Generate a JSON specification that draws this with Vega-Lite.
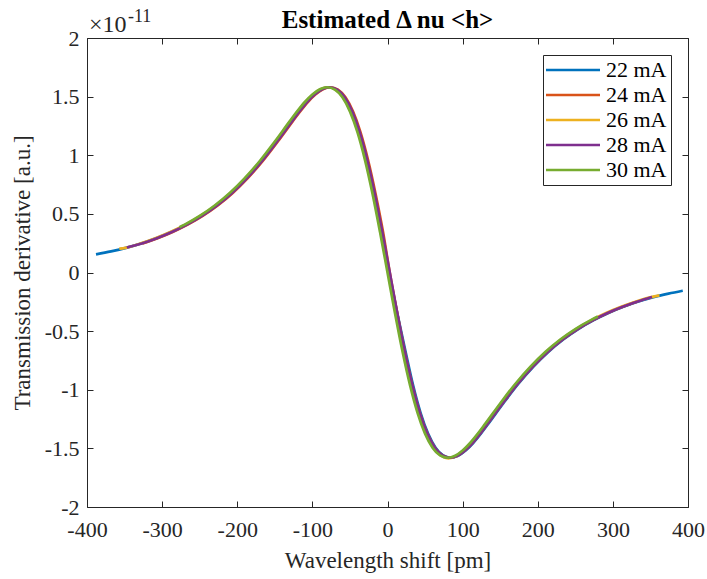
{
"$schema": "https://vega.github.io/schema/vega-lite/v6.json",
"width": 601, "height": 469,
"autosize": {"type": "none"},
"padding": {"left": 87, "top": 38, "right": 19, "bottom": 72},
"background": "white",
"title": {"text": "Estimated Δ nu <h>", "font": "Liberation Serif", "fontSize": 25, "fontWeight": "bold", "color": "black", "anchor": "middle", "frame": "group", "offset": -45, "baseline": "alphabetic"},
"config": {
  "view": {"stroke": "#262626", "strokeWidth": 1},
  "axis": {"grid": false, "domain": false, "labelFont": "Liberation Serif", "titleFont": "Liberation Serif", "labelFontSize": 22, "titleFontSize": 23, "labelColor": "#262626", "titleColor": "#262626", "titleFontWeight": "normal", "tickColor": "#262626", "tickWidth": 1, "labelFlush": false, "labelOverlap": false}
},
"datasets": {
  "curves": [
    {"s":"22 mA","x":-388,"y":0.155},{"s":"22 mA","x":-368,"y":0.180},{"s":"22 mA","x":-348,"y":0.210},{"s":"22 mA","x":-328,"y":0.247},{"s":"22 mA","x":-308,"y":0.292},{"s":"22 mA","x":-288,"y":0.345},{"s":"22 mA","x":-268,"y":0.408},{"s":"22 mA","x":-248,"y":0.482},{"s":"22 mA","x":-228,"y":0.571},{"s":"22 mA","x":-208,"y":0.678},{"s":"22 mA","x":-188,"y":0.805},{"s":"22 mA","x":-168,"y":0.951},{"s":"22 mA","x":-148,"y":1.117},{"s":"22 mA","x":-128,"y":1.291},{"s":"22 mA","x":-118,"y":1.376},{"s":"22 mA","x":-108,"y":1.454},{"s":"22 mA","x":-98,"y":1.518},{"s":"22 mA","x":-88,"y":1.563},{"s":"22 mA","x":-78,"y":1.580},{"s":"22 mA","x":-68,"y":1.560},{"s":"22 mA","x":-58,"y":1.494},{"s":"22 mA","x":-48,"y":1.374},{"s":"22 mA","x":-38,"y":1.197},{"s":"22 mA","x":-28,"y":0.961},{"s":"22 mA","x":-18,"y":0.674},{"s":"22 mA","x":-8,"y":0.347},{"s":"22 mA","x":2,"y":0},{"s":"22 mA","x":13,"y":-0.347},{"s":"22 mA","x":24,"y":-0.674},{"s":"22 mA","x":34,"y":-0.961},{"s":"22 mA","x":44,"y":-1.197},{"s":"22 mA","x":54,"y":-1.374},{"s":"22 mA","x":64,"y":-1.494},{"s":"22 mA","x":74,"y":-1.560},{"s":"22 mA","x":84,"y":-1.580},{"s":"22 mA","x":94,"y":-1.563},{"s":"22 mA","x":104,"y":-1.518},{"s":"22 mA","x":114,"y":-1.454},{"s":"22 mA","x":124,"y":-1.376},{"s":"22 mA","x":134,"y":-1.291},{"s":"22 mA","x":154,"y":-1.117},{"s":"22 mA","x":174,"y":-0.951},{"s":"22 mA","x":194,"y":-0.805},{"s":"22 mA","x":214,"y":-0.678},{"s":"22 mA","x":234,"y":-0.571},{"s":"22 mA","x":254,"y":-0.482},{"s":"22 mA","x":274,"y":-0.408},{"s":"22 mA","x":294,"y":-0.345},{"s":"22 mA","x":314,"y":-0.292},{"s":"22 mA","x":334,"y":-0.247},{"s":"22 mA","x":354,"y":-0.210},{"s":"22 mA","x":374,"y":-0.180},{"s":"22 mA","x":393,"y":-0.155},
    {"s":"24 mA","x":-326,"y":0.247},{"s":"24 mA","x":-306,"y":0.292},{"s":"24 mA","x":-286,"y":0.345},{"s":"24 mA","x":-266,"y":0.408},{"s":"24 mA","x":-246,"y":0.482},{"s":"24 mA","x":-226,"y":0.571},{"s":"24 mA","x":-206,"y":0.678},{"s":"24 mA","x":-186,"y":0.805},{"s":"24 mA","x":-166,"y":0.951},{"s":"24 mA","x":-146,"y":1.117},{"s":"24 mA","x":-126,"y":1.291},{"s":"24 mA","x":-116,"y":1.376},{"s":"24 mA","x":-106,"y":1.454},{"s":"24 mA","x":-96,"y":1.518},{"s":"24 mA","x":-86,"y":1.563},{"s":"24 mA","x":-76,"y":1.580},{"s":"24 mA","x":-66,"y":1.560},{"s":"24 mA","x":-56,"y":1.494},{"s":"24 mA","x":-46,"y":1.374},{"s":"24 mA","x":-36,"y":1.197},{"s":"24 mA","x":-26,"y":0.961},{"s":"24 mA","x":-16,"y":0.674},{"s":"24 mA","x":-6,"y":0.347},{"s":"24 mA","x":3,"y":0},{"s":"24 mA","x":13,"y":-0.347},{"s":"24 mA","x":23,"y":-0.674},{"s":"24 mA","x":33,"y":-0.961},{"s":"24 mA","x":43,"y":-1.197},{"s":"24 mA","x":53,"y":-1.374},{"s":"24 mA","x":63,"y":-1.494},{"s":"24 mA","x":73,"y":-1.560},{"s":"24 mA","x":83,"y":-1.580},{"s":"24 mA","x":93,"y":-1.563},{"s":"24 mA","x":103,"y":-1.518},{"s":"24 mA","x":113,"y":-1.454},{"s":"24 mA","x":123,"y":-1.376},{"s":"24 mA","x":133,"y":-1.291},{"s":"24 mA","x":153,"y":-1.117},{"s":"24 mA","x":173,"y":-0.951},{"s":"24 mA","x":193,"y":-0.805},{"s":"24 mA","x":213,"y":-0.678},{"s":"24 mA","x":233,"y":-0.571},{"s":"24 mA","x":253,"y":-0.482},{"s":"24 mA","x":273,"y":-0.408},{"s":"24 mA","x":293,"y":-0.345},{"s":"24 mA","x":313,"y":-0.292},{"s":"24 mA","x":333,"y":-0.247},
    {"s":"26 mA","x":-357,"y":0.203},{"s":"26 mA","x":-349,"y":0.210},{"s":"26 mA","x":-329,"y":0.247},{"s":"26 mA","x":-309,"y":0.292},{"s":"26 mA","x":-289,"y":0.345},{"s":"26 mA","x":-269,"y":0.408},{"s":"26 mA","x":-249,"y":0.482},{"s":"26 mA","x":-229,"y":0.571},{"s":"26 mA","x":-209,"y":0.678},{"s":"26 mA","x":-189,"y":0.805},{"s":"26 mA","x":-169,"y":0.951},{"s":"26 mA","x":-149,"y":1.117},{"s":"26 mA","x":-129,"y":1.291},{"s":"26 mA","x":-119,"y":1.376},{"s":"26 mA","x":-109,"y":1.454},{"s":"26 mA","x":-99,"y":1.518},{"s":"26 mA","x":-89,"y":1.563},{"s":"26 mA","x":-79,"y":1.580},{"s":"26 mA","x":-69,"y":1.560},{"s":"26 mA","x":-59,"y":1.494},{"s":"26 mA","x":-49,"y":1.374},{"s":"26 mA","x":-39,"y":1.197},{"s":"26 mA","x":-29,"y":0.961},{"s":"26 mA","x":-19,"y":0.674},{"s":"26 mA","x":-9,"y":0.347},{"s":"26 mA","x":1,"y":0},{"s":"26 mA","x":11,"y":-0.347},{"s":"26 mA","x":21,"y":-0.674},{"s":"26 mA","x":31,"y":-0.961},{"s":"26 mA","x":41,"y":-1.197},{"s":"26 mA","x":51,"y":-1.374},{"s":"26 mA","x":61,"y":-1.494},{"s":"26 mA","x":71,"y":-1.560},{"s":"26 mA","x":81,"y":-1.585},{"s":"26 mA","x":91,"y":-1.568},{"s":"26 mA","x":101,"y":-1.518},{"s":"26 mA","x":111,"y":-1.454},{"s":"26 mA","x":121,"y":-1.376},{"s":"26 mA","x":131,"y":-1.291},{"s":"26 mA","x":151,"y":-1.117},{"s":"26 mA","x":171,"y":-0.951},{"s":"26 mA","x":191,"y":-0.805},{"s":"26 mA","x":211,"y":-0.678},{"s":"26 mA","x":231,"y":-0.571},{"s":"26 mA","x":251,"y":-0.482},{"s":"26 mA","x":271,"y":-0.408},{"s":"26 mA","x":291,"y":-0.345},{"s":"26 mA","x":311,"y":-0.292},{"s":"26 mA","x":331,"y":-0.247},{"s":"26 mA","x":351,"y":-0.210},{"s":"26 mA","x":362,"y":-0.195},
    {"s":"28 mA","x":-347,"y":0.213},{"s":"28 mA","x":-327,"y":0.247},{"s":"28 mA","x":-307,"y":0.292},{"s":"28 mA","x":-287,"y":0.345},{"s":"28 mA","x":-267,"y":0.408},{"s":"28 mA","x":-247,"y":0.482},{"s":"28 mA","x":-227,"y":0.571},{"s":"28 mA","x":-207,"y":0.678},{"s":"28 mA","x":-187,"y":0.805},{"s":"28 mA","x":-167,"y":0.951},{"s":"28 mA","x":-147,"y":1.117},{"s":"28 mA","x":-127,"y":1.291},{"s":"28 mA","x":-117,"y":1.376},{"s":"28 mA","x":-107,"y":1.454},{"s":"28 mA","x":-97,"y":1.518},{"s":"28 mA","x":-87,"y":1.563},{"s":"28 mA","x":-77,"y":1.580},{"s":"28 mA","x":-67,"y":1.560},{"s":"28 mA","x":-57,"y":1.494},{"s":"28 mA","x":-47,"y":1.374},{"s":"28 mA","x":-37,"y":1.197},{"s":"28 mA","x":-27,"y":0.961},{"s":"28 mA","x":-17,"y":0.674},{"s":"28 mA","x":-7,"y":0.347},{"s":"28 mA","x":3,"y":0},{"s":"28 mA","x":13,"y":-0.347},{"s":"28 mA","x":23,"y":-0.674},{"s":"28 mA","x":33,"y":-0.961},{"s":"28 mA","x":43,"y":-1.197},{"s":"28 mA","x":53,"y":-1.374},{"s":"28 mA","x":63,"y":-1.494},{"s":"28 mA","x":73,"y":-1.560},{"s":"28 mA","x":83,"y":-1.580},{"s":"28 mA","x":93,"y":-1.563},{"s":"28 mA","x":103,"y":-1.518},{"s":"28 mA","x":113,"y":-1.454},{"s":"28 mA","x":123,"y":-1.376},{"s":"28 mA","x":133,"y":-1.291},{"s":"28 mA","x":153,"y":-1.117},{"s":"28 mA","x":173,"y":-0.951},{"s":"28 mA","x":193,"y":-0.805},{"s":"28 mA","x":213,"y":-0.678},{"s":"28 mA","x":233,"y":-0.571},{"s":"28 mA","x":253,"y":-0.482},{"s":"28 mA","x":273,"y":-0.408},{"s":"28 mA","x":293,"y":-0.345},{"s":"28 mA","x":313,"y":-0.292},{"s":"28 mA","x":333,"y":-0.247},{"s":"28 mA","x":352,"y":-0.208},
    {"s":"30 mA","x":-277,"y":0.386},{"s":"30 mA","x":-270,"y":0.408},{"s":"30 mA","x":-250,"y":0.482},{"s":"30 mA","x":-230,"y":0.571},{"s":"30 mA","x":-210,"y":0.678},{"s":"30 mA","x":-190,"y":0.805},{"s":"30 mA","x":-170,"y":0.951},{"s":"30 mA","x":-150,"y":1.117},{"s":"30 mA","x":-130,"y":1.291},{"s":"30 mA","x":-120,"y":1.376},{"s":"30 mA","x":-110,"y":1.454},{"s":"30 mA","x":-100,"y":1.518},{"s":"30 mA","x":-90,"y":1.563},{"s":"30 mA","x":-80,"y":1.580},{"s":"30 mA","x":-70,"y":1.560},{"s":"30 mA","x":-60,"y":1.494},{"s":"30 mA","x":-50,"y":1.374},{"s":"30 mA","x":-40,"y":1.197},{"s":"30 mA","x":-30,"y":0.961},{"s":"30 mA","x":-20,"y":0.674},{"s":"30 mA","x":-10,"y":0.347},{"s":"30 mA","x":0,"y":0},{"s":"30 mA","x":10,"y":-0.347},{"s":"30 mA","x":20,"y":-0.674},{"s":"30 mA","x":30,"y":-0.961},{"s":"30 mA","x":40,"y":-1.197},{"s":"30 mA","x":50,"y":-1.374},{"s":"30 mA","x":60,"y":-1.494},{"s":"30 mA","x":70,"y":-1.560},{"s":"30 mA","x":80,"y":-1.580},{"s":"30 mA","x":90,"y":-1.563},{"s":"30 mA","x":100,"y":-1.518},{"s":"30 mA","x":110,"y":-1.454},{"s":"30 mA","x":120,"y":-1.376},{"s":"30 mA","x":130,"y":-1.291},{"s":"30 mA","x":150,"y":-1.117},{"s":"30 mA","x":170,"y":-0.951},{"s":"30 mA","x":190,"y":-0.805},{"s":"30 mA","x":210,"y":-0.678},{"s":"30 mA","x":230,"y":-0.571},{"s":"30 mA","x":250,"y":-0.482},{"s":"30 mA","x":270,"y":-0.408},{"s":"30 mA","x":280,"y":-0.376}
  ],
  "base": [{"t": "×10", "x": -400, "y": 2}],
  "expo": [{"t": "-11", "x": -400, "y": 2}]
},
"layer": [
  {
    "data": {"name": "curves"},
    "mark": {"type": "line", "strokeWidth": 2.7, "interpolate": "monotone"},
    "encoding": {
      "x": {"field": "x", "type": "quantitative", "scale": {"domain": [-400, 400], "nice": false, "zero": false},
        "axis": {"orient": "bottom", "title": "Wavelength shift [pm]", "values": [-400,-300,-200,-100,0,100,200,300,400], "ticks": false, "labelPadding": 12, "labelExpr": "toString(datum.value)", "titlePadding": 9}},
      "y": {"field": "y", "type": "quantitative", "scale": {"domain": [-2, 2], "nice": false, "zero": false},
        "axis": {"orient": "left", "title": "Transmission derivative [a.u.]", "values": [-2,-1.5,-1,-0.5,0,0.5,1,1.5,2], "ticks": false, "labelPadding": 8, "labelExpr": "toString(datum.value)", "titlePadding": 10}},
      "color": {"field": "s", "type": "nominal",
        "scale": {"domain": ["22 mA","24 mA","26 mA","28 mA","30 mA"], "range": ["#0072BD","#D95319","#EDB120","#7E2F8E","#77AC30"]},
        "legend": {"title": null, "orient": "top-right", "offset": 17, "symbolType": "M-2.4,0H8.4", "symbolSize": 100, "symbolStrokeWidth": 2.5, "labelFont": "Liberation Serif", "labelFontSize": 22, "labelColor": "black", "labelOffset": 37, "strokeColor": "#262626", "fillColor": "white", "padding": 4, "rowPadding": 3, "cornerRadius": 0, "labelLimit": 200}}
    }
  },
  {
    "data": {"name": "base"},
    "mark": {"type": "text", "font": "Liberation Serif", "fontSize": 24, "align": "left", "baseline": "alphabetic", "dx": 2, "dy": -6, "color": "#262626"},
    "encoding": {
      "text": {"field": "t"},
      "x": {"field": "x", "type": "quantitative", "axis": {"orient": "bottom", "labels": false, "title": null, "tickSize": -6, "values": [-400,-300,-200,-100,0,100,200,300,400]}},
      "y": {"field": "y", "type": "quantitative", "axis": {"orient": "left", "labels": false, "title": null, "tickSize": -6, "values": [-2,-1.5,-1,-0.5,0,0.5,1,1.5,2]}}
    }
  },
  {
    "data": {"name": "expo"},
    "mark": {"type": "text", "font": "Liberation Serif", "fontSize": 18, "align": "left", "baseline": "alphabetic", "dx": 41, "dy": -16, "color": "#262626"},
    "encoding": {
      "text": {"field": "t"},
      "x": {"field": "x", "type": "quantitative", "axis": {"orient": "top", "labels": false, "title": null, "tickSize": -6, "values": [-400,-300,-200,-100,0,100,200,300,400]}},
      "y": {"field": "y", "type": "quantitative", "axis": {"orient": "right", "labels": false, "title": null, "tickSize": -6, "values": [-2,-1.5,-1,-0.5,0,0.5,1,1.5,2]}}
    }
  }
],
"resolve": {"axis": {"x": "independent", "y": "independent"}}
}
